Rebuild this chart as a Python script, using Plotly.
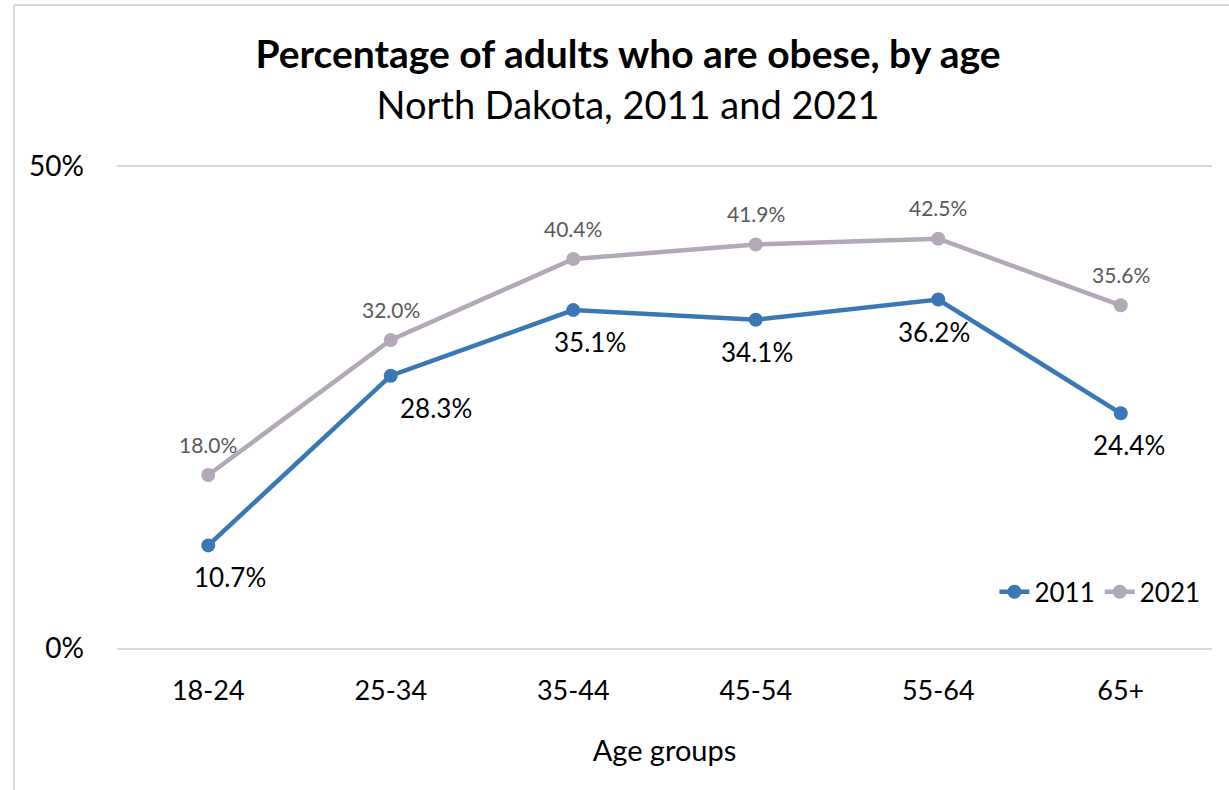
import plotly.graph_objects as go

categories = ["18-24", "25-34", "35-44", "45-54", "55-64", "65+"]
values_2011 = [10.7, 28.3, 35.1, 34.1, 36.2, 24.4]
values_2021 = [18.0, 32.0, 40.4, 41.9, 42.5, 35.6]
y_ticks = [0, 50]
y_tick_labels = ["0%", "50%"]

# label nudges (pixels), styling only
label_xshift_2011 = [22, 45, 17, 1, -4, 8]

FONT = "Lato, 'Open Sans', sans-serif"
BLUE = "#3A78B5"
GREY = "#B2A8B8"

fig = go.Figure()
fig.add_trace(go.Scatter(
    x=categories, y=values_2011, name="2011", mode="lines+markers",
    line=dict(color=BLUE, width=4.5), marker=dict(size=14, color=BLUE),
))
fig.add_trace(go.Scatter(
    x=categories, y=values_2021, name="2021", mode="lines+markers",
    line=dict(color=GREY, width=4.5), marker=dict(size=14, color=GREY),
))

for c, v, dx in zip(categories, values_2011, label_xshift_2011):
    fig.add_annotation(x=c, y=v, text=f"{v:.1f}%", showarrow=False, xshift=dx, yshift=-32,
                       font=dict(size=26, color="#000000", family=FONT))
for c, v in zip(categories, values_2021):
    fig.add_annotation(x=c, y=v, text=f"{v:.1f}%", showarrow=False, yshift=31,
                       font=dict(size=21, color="#595959", family=FONT))

fig.update_layout(
    width=1229, height=790,
    margin=dict(l=117, r=17, t=165, b=140),
    paper_bgcolor="white", plot_bgcolor="white",
    font=dict(family=FONT, size=27, color="#000000"),
    title=dict(
        text="<b>Percentage of adults who are obese, by age</b><br><span style='font-size:38px'>North Dakota, 2011 and 2021</span>",
        x=0.511, xanchor="center", yref="container", y=1 - 68 / 790, yanchor="middle",
        font=dict(size=39, family=FONT, color="#000000"),
    ),
    showlegend=True,
    legend=dict(orientation="h", x=0.994, xanchor="right", y=0.12, yanchor="middle",
                font=dict(size=26, family=FONT), bgcolor="rgba(0,0,0,0)"),
    xaxis=dict(range=[-0.5, 5.5], showgrid=False, showline=False, zeroline=False, ticks="",
               ticklabelstandoff=22, tickfont=dict(size=27),
               title=dict(text="Age groups", font=dict(size=29), standoff=35)),
    yaxis=dict(range=[-0.15, 50.15], tickvals=y_ticks, ticktext=y_tick_labels,
               showgrid=True, gridcolor="#D9D9D9", gridwidth=2, zeroline=False,
               showline=False, ticks="", ticklabelstandoff=32, tickfont=dict(size=28)),
)

fig.add_shape(type="line", xref="paper", yref="paper", x0=-0.094, x1=-0.094, y0=-0.4, y1=1.33,
              line=dict(color="#D9D9D9", width=2))
fig.add_shape(type="line", xref="paper", yref="paper", x0=-0.094, x1=1.1, y0=1.33, y1=1.33,
              line=dict(color="#D9D9D9", width=2))

fig.write_html("out.html", config={"displayModeBar": False},
               post_script="document.body.style.margin='0px';document.body.style.overflow='hidden';")
